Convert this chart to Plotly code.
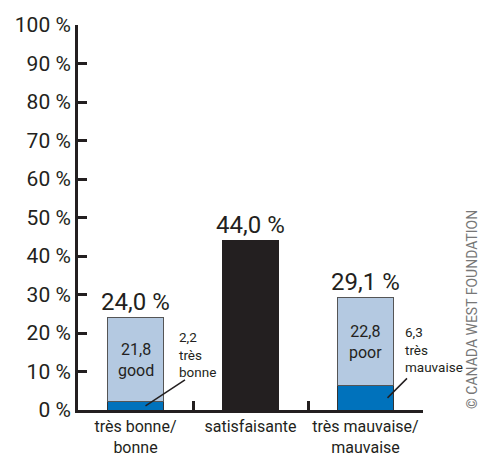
import plotly.graph_objects as go

categories = ["très bonne/<br>bonne", "satisfaisante", "très mauvaise/<br>mauvaise"]
totals = [24.0, 44.0, 29.1]
dark_vals = [2.2, None, 6.3]
light_vals = [21.8, None, 22.8]
mid_vals = [None, 44.0, None]
light_words = ["good", "", "poor"]
dark_words = ["très<br>bonne", "", "très<br>mauvaise"]
y_ticks = [0, 10, 20, 30, 40, 50, 60, 70, 80, 90, 100]

def fr(v):
    return f"{v:.1f}".replace(".", ",")

FONT = "Roboto"
INK = "#231f20"

fig = go.Figure()
fig.add_trace(go.Bar(x=categories, y=dark_vals, marker=dict(color="#0072bc", line=dict(color="#333333", width=1)),
                     width=0.48, hoverinfo="skip"))
fig.add_trace(go.Bar(x=categories, y=light_vals, marker=dict(color="#b4c9e1", line=dict(color="#555555", width=1)),
                     width=0.48, hoverinfo="skip"))
fig.add_trace(go.Bar(x=categories, y=mid_vals, marker=dict(color=INK, line=dict(color=INK, width=1)),
                     width=0.48, hoverinfo="skip"))

ann = []
for i, c in enumerate(categories):
    ann.append(dict(x=c, y=totals[i], text=fr(totals[i]) + " %", showarrow=False, yanchor="bottom",
                    yshift=0, font=dict(family=FONT, size=24, color=INK)))
    if light_vals[i] is not None:
        ann.append(dict(x=c, y=dark_vals[i] + light_vals[i] / 2, text=fr(light_vals[i]) + "<br>" + light_words[i],
                        showarrow=False, font=dict(family=FONT, size=16, color=INK)))
        # leader line
        xs = 10 if i == 0 else 22
        ax, ay = (41, -27) if i == 0 else (21, -21)
        ann.append(dict(x=c, y=dark_vals[i] / 2, text="", showarrow=True, arrowhead=0, arrowwidth=1.5,
                        arrowcolor=INK, ax=ax, ay=ay, xshift=xs))
        txs = 41 if i == 0 else 37
        tys = 24 if i == 0 else 21
        ann.append(dict(x=c, y=dark_vals[i] / 2, text=fr(dark_vals[i]) + "<br>" + dark_words[i],
                        showarrow=False, xanchor="left", yanchor="bottom", align="left",
                        xshift=txs, yshift=tys, font=dict(family=FONT, size=13.5, color=INK)))

ann.append(dict(xref="paper", yref="paper", x=1.142, y=0.262, text="© CANADA WEST FOUNDATION", textangle=-90,
                showarrow=False, xanchor="center", yanchor="middle", font=dict(family=FONT, size=14, color="#777777")))

fig.update_layout(
    barmode="stack", showlegend=False, width=484, height=457,
    margin=dict(l=78, r=61, t=25, b=47),
    plot_bgcolor="white", paper_bgcolor="white", bargap=0.52,
    annotations=ann,
    font=dict(family=FONT, color=INK),
)
fig.update_xaxes(type="category", range=[-0.5, 2.5], showline=True, linecolor=INK, linewidth=3,
                 ticks="inside", tickson="boundaries", ticklen=9, tickwidth=3, tickcolor=INK,
                 tickangle=0, automargin=False,
                 tickfont=dict(family=FONT, size=16, color=INK), showgrid=False, zeroline=False)
fig.update_yaxes(range=[0, 100], tickvals=y_ticks, ticktext=[f"{v} %" for v in y_ticks], showline=True,
                 linecolor=INK, linewidth=3, ticks="inside", ticklen=9, tickwidth=3, tickcolor=INK,
                 automargin=False,
                 tickfont=dict(family=FONT, size=21, color=INK), showgrid=False, zeroline=False)

fig.write_html("out.html")
